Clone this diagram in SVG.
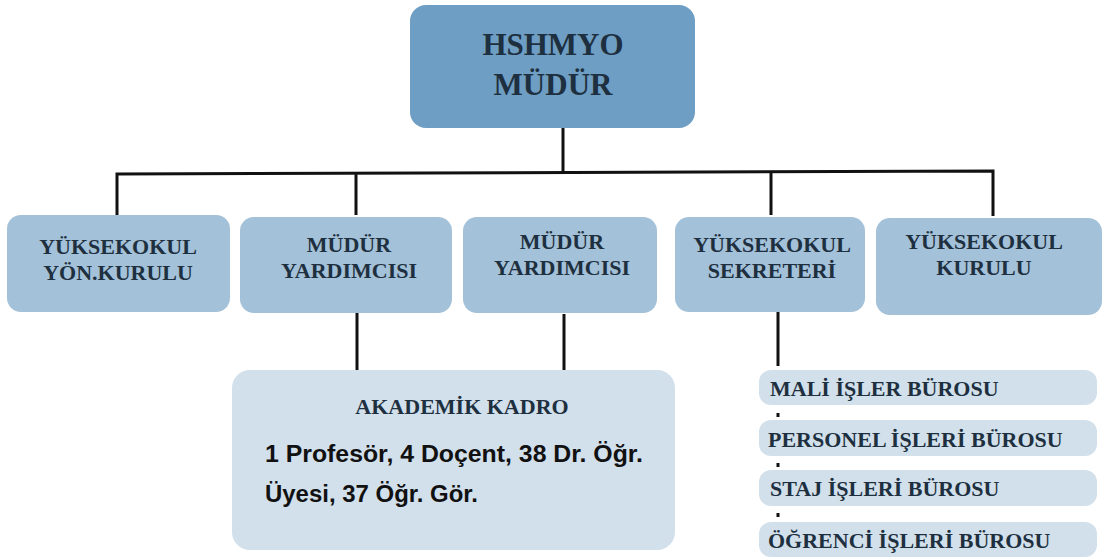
<svg xmlns="http://www.w3.org/2000/svg" width="1103" height="559" viewBox="0 0 1103 559">
<style>
.t{font-weight:bold;fill:#1e3040;text-anchor:middle}
.s{text-anchor:start}
.top{fill:#6e9ec3}
.mid{fill:#a3c1d8}
.lt{fill:#d1e0eb}
.ln{stroke:#111;stroke-width:3;fill:none}
.b{font-family:'Liberation Sans',Arial,sans-serif;font-weight:bold;font-size:23px;fill:#111}
</style>
<rect width="1103" height="559" fill="#fff"/>
<g id="connectors">
<path class="ln" d="M563 128V172M117 215V174L993 171V216M356 215V173M771 215V172M357 313V371M564 314V371M778 312V366M778 413V417M778 463V467M778 513V517"/>
</g>
<g font-family="Liberation Serif, Times New Roman, DejaVu Serif, serif">
<g id="mudur">
<rect class="top" x="410" y="5" width="285" height="123" rx="16"/>
<text class="t" x="553" y="55" font-size="31">HSHMYO</text>
<text class="t" x="553" y="95" font-size="31">MÜDÜR</text>
</g>
<g id="yonkurulu">
<rect class="mid" x="7" y="215" width="223" height="97" rx="14"/>
<text class="t" x="118" y="254" font-size="22">YÜKSEKOKUL</text>
<text class="t" x="118" y="280" font-size="22">YÖN.KURULU</text>
</g>
<g id="yard1">
<rect class="mid" x="240" y="217" width="212" height="96" rx="14"/>
<text class="t" x="349" y="252" font-size="22">MÜDÜR</text>
<text class="t" x="349" y="278" font-size="22">YARDIMCISI</text>
</g>
<g id="yard2">
<rect class="mid" x="463" y="217" width="194" height="96" rx="14"/>
<text class="t" x="562" y="249" font-size="22">MÜDÜR</text>
<text class="t" x="562" y="275" font-size="22">YARDIMCISI</text>
</g>
<g id="sekreter">
<rect class="mid" x="675" y="217" width="190" height="95" rx="14"/>
<text class="t" x="772" y="252" font-size="22">YÜKSEKOKUL</text>
<text class="t" x="772" y="278" font-size="22">SEKRETERİ</text>
</g>
<g id="kurul">
<rect class="mid" x="876" y="218" width="226" height="97" rx="14"/>
<text class="t" x="984" y="249" font-size="22">YÜKSEKOKUL</text>
<text class="t" x="984" y="275" font-size="22">KURULU</text>
</g>
<g id="akademik">
<rect class="lt" x="232" y="370" width="443" height="180" rx="18"/>
<text class="t" x="462" y="414" font-size="22">AKADEMİK KADRO</text>
<text class="b" x="265" y="462" textLength="378" lengthAdjust="spacingAndGlyphs">1 Profesör, 4 Doçent, 38 Dr. Öğr.</text>
<text class="b" x="265" y="502" textLength="213" lengthAdjust="spacingAndGlyphs">Üyesi, 37 Öğr. Gör.</text>
</g>
<g id="mali">
<rect class="lt" x="759" y="370" width="338" height="35" rx="12"/>
<text class="t s" x="770" y="396" font-size="22">MALİ İŞLER BÜROSU</text>
</g>
<g id="personel">
<rect class="lt" x="759" y="420" width="338" height="36" rx="12"/>
<text class="t s" x="768" y="447" font-size="22">PERSONEL İŞLERİ BÜROSU</text>
</g>
<g id="staj">
<rect class="lt" x="759" y="470" width="338" height="36" rx="12"/>
<text class="t s" x="770" y="496" font-size="22">STAJ İŞLERİ BÜROSU</text>
</g>
<g id="ogrenci">
<rect class="lt" x="759" y="522" width="338" height="35" rx="12"/>
<text class="t s" x="768" y="548" font-size="22">ÖĞRENCİ İŞLERİ BÜROSU</text>
</g>
</g>
</svg>
